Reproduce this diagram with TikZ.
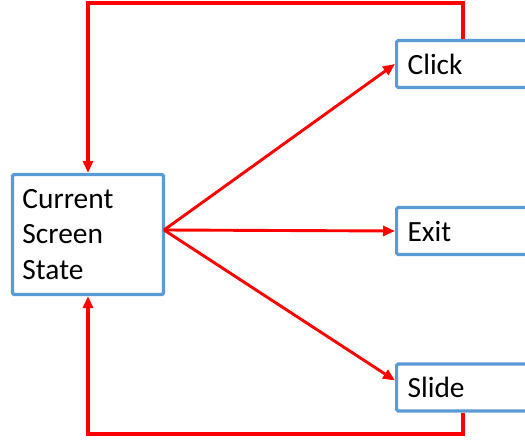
\documentclass[tikz,border=0pt]{standalone}
\usepackage{fontspec}
\setmainfont{Carlito}
\usepackage{tikz}
\usetikzlibrary{arrows.meta}
\definecolor{boxblue}{RGB}{91,155,213}
\tikzset{state/.style={draw=boxblue,line width=3.2bp,rounded corners=1.5bp,fill=white,
  inner xsep=10bp,inner ysep=0bp,align=left,font=\fontsize{29.5}{36}\selectfont},
  action/.style={state,anchor=west,minimum width=150bp,minimum height=47bp,text width=128bp},
  flow/.style={draw=red,line width=2.9bp,-{Triangle[length=12bp,width=10bp]}}}

\begin{document}
\begin{tikzpicture}[x=1bp,y=-1bp]
\useasboundingbox (0,0) rectangle (525,442);

\node[state,minimum height=120bp,text width=131bp] (cur) at (88,234.5) {Current\\Screen\\State};
\node[action] (click) at (395,64) {Click};
\node[action] (exit) at (395,231) {Exit};
\node[action] (slide) at (395,387.5) {Slide};

\coordinate (hub) at (164,230);
\coordinate (tr) at (463,3);
\coordinate (tl) at (88,3);
\coordinate (br) at (463,434);
\coordinate (bl) at (88,434);

\draw[flow] (hub) -- (click.west);
\draw[flow] (hub) -- (exit.west);
\draw[flow] (hub) -- ([yshift=7bp]slide.west);
% loops back to the current state
\draw[flow,line width=3.3bp] (click.north -| tr) -- (tr) -- (tl) -- (cur.north);
\draw[flow,line width=3.3bp] (slide.south -| br) -- (br) -- (bl) -- (cur.south);
\end{tikzpicture}
\end{document}
